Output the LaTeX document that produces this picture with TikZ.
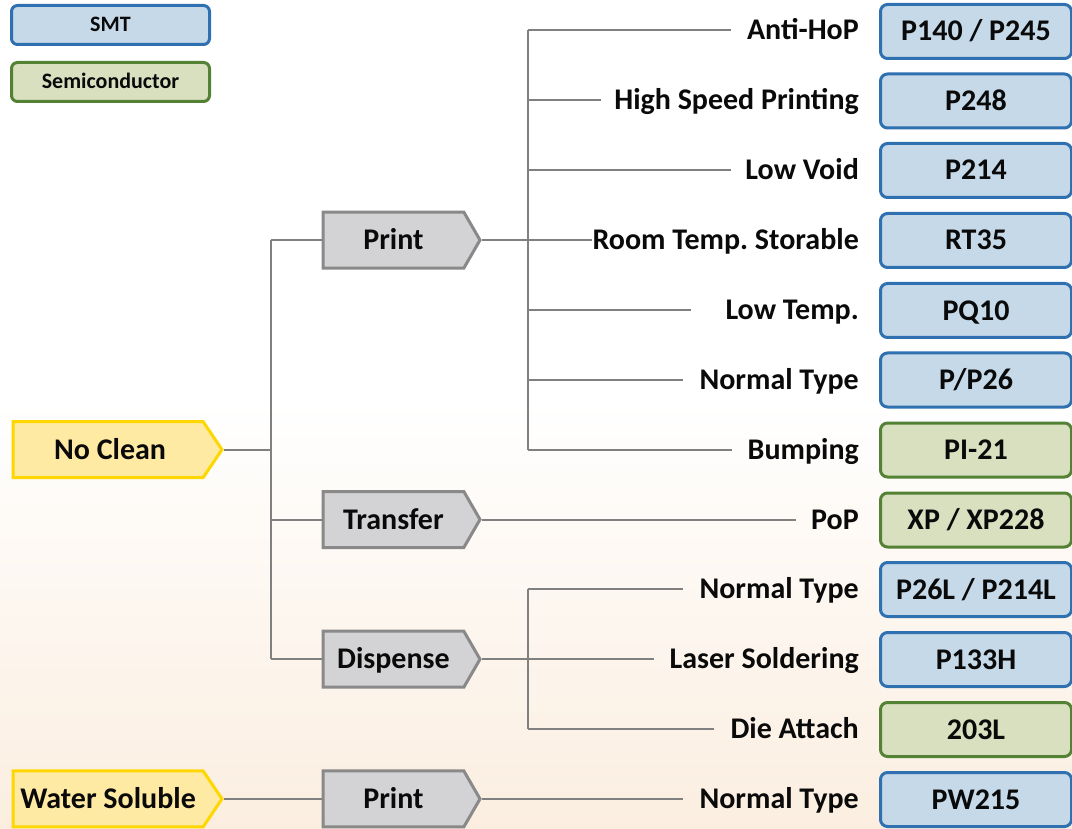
\documentclass[tikz,border=0pt]{standalone}
\usepackage{fontspec}
\setmainfont{Carlito}
\usetikzlibrary{shapes.symbols}
\definecolor{smtborder}{RGB}{46,112,176}
\definecolor{smtfill}{RGB}{197,217,233}
\definecolor{semiborder}{RGB}{84,130,53}
\definecolor{semifill}{RGB}{216,224,192}
\definecolor{catborder}{RGB}{255,215,0}
\definecolor{catfill}{RGB}{255,234,163}
\definecolor{procborder}{RGB}{137,137,137}
\definecolor{procfill}{RGB}{211,211,213}
\definecolor{linegray}{RGB}{128,128,128}
\definecolor{bgpeach}{RGB}{251,238,224}
\definecolor{txt}{RGB}{10,10,10}
\frenchspacing
\begin{document}
\begin{tikzpicture}[x=1pt,y=-1pt,
  bigfont/.style={font=\fontsize{30}{32}\selectfont\bfseries, text=txt, text height=19pt, text depth=0pt},
  cat/.style={signal, signal to=east, signal pointer angle=112, draw=catborder, fill=catfill,
    line width=3pt, minimum width=209pt, minimum height=56pt, inner sep=0pt, anchor=west, bigfont},
  proc/.style={signal, signal to=east, signal pointer angle=120, draw=procborder, fill=procfill,
    line width=3pt, minimum width=157pt, minimum height=56pt, inner sep=0pt, anchor=west, bigfont},
  lbl/.style={anchor=east, inner sep=0pt, bigfont},
  prod/.style={rounded corners=7pt, line width=3pt, minimum width=191pt, minimum height=54pt, inner sep=0pt, bigfont},
  smt/.style={prod, draw=smtborder, fill=smtfill},
  semi/.style={prod, draw=semiborder, fill=semifill},
  legsmt/.style={rounded corners=6pt, line width=3pt, minimum width=198pt, minimum height=39pt, inner sep=0pt,
    draw=smtborder, fill=smtfill, font=\fontsize{22}{24}\selectfont\bfseries, text=txt, text height=14pt, text depth=0pt},
  legsemi/.style={legsmt, draw=semiborder, fill=semifill},
  conn/.style={draw=linegray, line width=2pt}
]
\useasboundingbox (0,0) rectangle (1072,829);
\fill[white] (0,0) rectangle (1072,829);
\shade[top color=white, bottom color=bgpeach] (0,400) rectangle (1072,829);

% legend
\node[legsmt] (lsmt) at (110.5,25) {SMT};
\node[legsemi] (lsemi) at (110.5,82) {Semiconductor};

% categories
\node[cat] (nc) at (11.5,449.6) {\hspace{4pt}No Clean};
\node[cat] (ws) at (11.5,798.9) {Water Soluble};

% processes
\node[proc] (pr) at (321.5,240.1) {Print};
\node[proc] (tr) at (321.5,519.5) {Transfer};
\node[proc] (di) at (321.5,659.2) {Dispense};
\node[proc] (pr2) at (321.5,798.9) {Print};

% labels
\node[lbl] (l1) at (859,30.5) {Anti-HoP};
\node[lbl] (l2) at (859,100.4) {High Speed Printing};
\node[lbl] (l3) at (859,170.2) {Low Void};
\node[lbl] (l4) at (859,240.1) {Room Temp. Storable};
\node[lbl] (l5) at (859,309.9) {Low Temp.};
\node[lbl] (l6) at (859,379.8) {Normal Type};
\node[lbl] (l7) at (859,449.6) {Bumping};
\node[lbl] (l8) at (859,519.5) {PoP};
\node[lbl] (l9) at (859,589.3) {Normal Type};
\node[lbl] (l10) at (859,659.2) {Laser Soldering};
\node[lbl] (l11) at (859,729) {Die Attach};
\node[lbl] (l12) at (859,798.9) {Normal Type};

% products
\node[smt] (p1) at (976,31.5) {P140 / P245};
\node[smt] (p2) at (976,101) {P248};
\node[smt] (p3) at (976,170.5) {P214};
\node[smt] (p4) at (976,240.5) {RT35};
\node[smt] (p5) at (976,310.5) {PQ10};
\node[smt] (p6) at (976,380) {P/P26};
\node[semi] (p7) at (976,450) {PI-21};
\node[semi] (p8) at (976,520) {XP / XP228};
\node[smt] (p9) at (976,589.5) {P26L / P214L};
\node[smt] (p10) at (976,659.5) {P133H};
\node[semi] (p11) at (976,729.5) {203L};
\node[smt] (p12) at (976,799.5) {PW215};

% junction coordinates
\coordinate (ja) at (271,449.6);
\coordinate (ja1) at (271,240.1);
\coordinate (ja2) at (271,519.5);
\coordinate (ja3) at (271,659.2);
\coordinate (jb) at (528,240.1);
\coordinate (jb1) at (528,30.5);
\coordinate (jb2) at (528,100.4);
\coordinate (jb3) at (528,170.2);
\coordinate (jb5) at (528,309.9);
\coordinate (jb6) at (528,379.8);
\coordinate (jb7) at (528,449.6);
\coordinate (jc) at (528,659.2);
\coordinate (jc1) at (528,589.3);
\coordinate (jc3) at (528,729);

% connectors: No Clean tree
\draw[conn] (nc.east) -- (ja);
\draw[conn] (ja1) -- (ja3);
\draw[conn] (ja1) -- (pr.west);
\draw[conn] (ja2) -- (tr.west);
\draw[conn] (ja3) -- (di.west);

% Print branch
\draw[conn] (pr.east) -- (jb);
\draw[conn] (jb1) -- (jb7);
\draw[conn] (jb1) -- ([xshift=-16pt]l1.west);
\draw[conn] (jb2) -- ([xshift=-13pt]l2.west);
\draw[conn] (jb3) -- ([xshift=-14pt]l3.west);
\draw[conn] (jb) -- (l4.west);
\draw[conn] (jb5) -- ([xshift=-34pt]l5.west);
\draw[conn] (jb6) -- ([xshift=-16pt]l6.west);
\draw[conn] (jb7) -- ([xshift=-15pt]l7.west);

% Transfer
\draw[conn] (tr.east) -- ([xshift=-15pt]l8.west);

% Dispense branch
\draw[conn] (di.east) -- (jc);
\draw[conn] (jc1) -- (jc3);
\draw[conn] (jc1) -- ([xshift=-16pt]l9.west);
\draw[conn] (jc) -- ([xshift=-15pt]l10.west);
\draw[conn] (jc3) -- ([xshift=-16pt]l11.west);

% Water soluble
\draw[conn] (ws.east) -- (pr2.west);
\draw[conn] (pr2.east) -- ([xshift=-16pt]l12.west);
\end{tikzpicture}
\end{document}
